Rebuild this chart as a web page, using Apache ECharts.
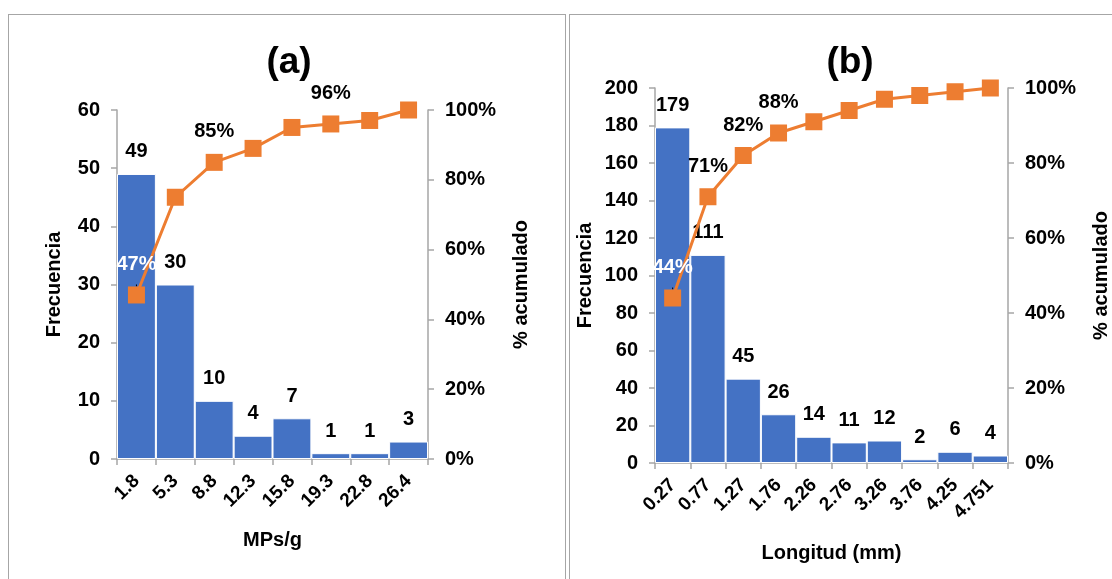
<!DOCTYPE html>
<html>
<head>
  <meta charset="UTF-8">
  <title>Pareto MPs</title>
  <script src="https://cdn.jsdelivr.net/npm/echarts@6/dist/echarts.min.js"></script>
  <style>
    html, body { margin: 0; padding: 0; background: #fff; overflow: hidden; }
    #main { position: absolute; left: 0; top: 0; width: 1112px; height: 579px; }
    .panel { position: absolute; top: 14px; height: 700px; border: 1px solid #a6a6a6; }
  </style>
</head>
<body>
<div class="panel" style="left:8px;width:556px;"></div>
<div class="panel" style="left:569px;width:600px;"></div>
<div id="main"></div>

<script>
    // (a) MPs/g
    var catsA = ['1.8', '5.3', '8.8', '12.3', '15.8', '19.3', '22.8', '26.4'];
    var freqA = [49, 30, 10, 4, 7, 1, 1, 3];
    var cumA = [47, 75, 85, 89, 95, 96, 97, 100];
    var cumLabelA = ['47%', '', '85%', '', '', '96%', '', ''];

    // (b) Longitud (mm)
    var catsB = ['0.27', '0.77', '1.27', '1.76', '2.26', '2.76', '3.26', '3.76', '4.25', '4.751'];
    var freqB = [179, 111, 45, 26, 14, 11, 12, 2, 6, 4];
    var cumB = [44, 71, 82, 88, 91, 94, 97, 98, 99, 100];
    var cumLabelB = ['44%', '71%', '82%', '88%', '', '', '', '', '', ''];

    var FONT = '"Liberation Sans", Arial, sans-serif';
    var AXIS_COLOR = '#a6a6a6';

    function lineData(vals, labels) {
        return vals.map(function (v, i) {
            var item = { value: v };
            if (labels[i] === '') {
                item.label = { show: false };
            } else if (i === 0) {
                item.label = { show: true, color: '#fff', formatter: labels[i] };
                item.labelLine = { show: true, lineStyle: { color: '#000', width: 1 } };
            } else {
                item.label = { show: true, formatter: labels[i] };
            }
            return item;
        });
    }

    function xAx(idx, cats, name, gap) {
        return {
            type: 'category', gridIndex: idx, data: cats,
            name: name, nameLocation: 'middle', nameGap: gap,
            nameTextStyle: { fontFamily: FONT, fontWeight: 'bold', fontSize: 20, color: '#000' },
            axisLine: { lineStyle: { color: AXIS_COLOR, width: 1.5 } },
            axisTick: { show: true, length: 6, lineStyle: { color: AXIS_COLOR, width: 1.5 } },
            axisLabel: { rotate: 45, margin: 19, fontFamily: FONT, fontWeight: 'bold', fontSize: 19, color: '#000' },
            splitLine: { show: false }
        };
    }

    function yAx(idx, pos, max, interval, pct, gap) {
        return {
            type: 'value', gridIndex: idx, position: pos,
            min: 0, max: max, interval: interval,
            name: pct ? '% acumulado' : 'Frecuencia',
            nameLocation: 'middle', nameGap: gap, nameRotate: 90,
            nameTextStyle: { fontFamily: FONT, fontWeight: 'bold', fontSize: 20, color: '#000' },
            axisLine: { show: true, lineStyle: { color: AXIS_COLOR, width: 1.5 } },
            axisTick: { show: true, length: 6, lineStyle: { color: AXIS_COLOR, width: 1.5 } },
            axisLabel: { margin: 17, fontFamily: FONT, fontWeight: 'bold', fontSize: 20, color: '#000',
                         formatter: pct ? '{value}%' : '{value}' },
            splitLine: { show: false }
        };
    }

    function barSeries(idx, data) {
        return {
            type: 'bar', xAxisIndex: idx, yAxisIndex: idx * 2, data: data,
            barCategoryGap: '0%',
            itemStyle: { color: '#4472C4', borderColor: '#fff', borderWidth: 1 },
            label: { show: true, position: 'top', distance: 12,
                     fontFamily: FONT, fontWeight: 'bold', fontSize: 20, color: '#000' },
            silent: true, animation: false
        };
    }

    function lineSeries(idx, vals, labels) {
        return {
            type: 'line', xAxisIndex: idx, yAxisIndex: idx * 2 + 1, data: lineData(vals, labels),
            symbol: 'rect', symbolSize: 17,
            lineStyle: { color: '#ED7D31', width: 3 },
            itemStyle: { color: '#ED7D31' },
            label: { position: 'top', distance: 12,
                     fontFamily: FONT, fontWeight: 'bold', fontSize: 20, color: '#000' },
            silent: true, animation: false, z: 3
        };
    }

    var myChart = echarts.init(document.getElementById('main'), null, { renderer: 'canvas' });

    var option = {
        backgroundColor: 'transparent',
        animation: false,
        title: [
            { text: '(a)', left: 284, top: 39, textAlign: 'center',
              textStyle: { fontFamily: FONT, fontWeight: 'bold', fontSize: 37, color: '#000' } },
            { text: '(b)', left: 845, top: 39, textAlign: 'center',
              textStyle: { fontFamily: FONT, fontWeight: 'bold', fontSize: 37, color: '#000' } }
        ],
        grid: [
            { left: 117, top: 110, width: 311, height: 349 },
            { left: 655, top: 88, width: 355, height: 375 }
        ],
        xAxis: [
            xAx(0, catsA, 'MPs/g', 71),
            xAx(1, catsB, 'Longitud (mm)', 80)
        ],
        yAxis: [
            yAx(0, 'left', 60, 10, false, 53),
            yAx(0, 'right', 100, 20, true, 83),
            yAx(1, 'left', 200, 20, false, 60),
            yAx(1, 'right', 100, 20, true, 83)
        ],
        series: [
            barSeries(0, freqA),
            lineSeries(0, cumA, cumLabelA),
            barSeries(1, freqB),
            lineSeries(1, cumB, cumLabelB)
        ]
    };

    myChart.setOption(option);
</script>
</body>
</html>
